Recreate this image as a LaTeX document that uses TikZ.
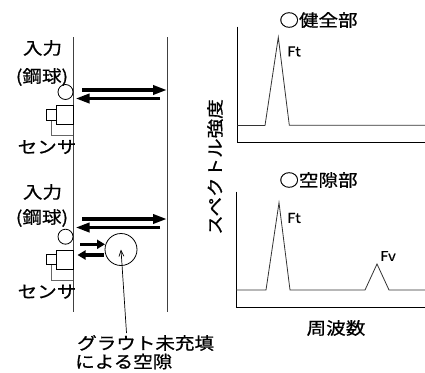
\documentclass[tikz,border=0pt]{standalone}
\usepackage{fontspec}
\newfontfamily\jp[FakeStretch=1.15,FakeBold=0.8]{Noto Sans CJK JP}
\newfontfamily\jl[FakeStretch=1.1,FakeBold=0.3]{Noto Sans CJK JP}
\usetikzlibrary{arrows.meta}
\tikzset{
  jtext/.style={font=\jp\fontsize{17}{19}\selectfont, inner sep=0pt},
  ltext/.style={font=\jl\fontsize{13.5}{15}\selectfont, inner sep=0pt},
  wall/.style={line width=0.9pt, draw=black!75},
  axis/.style={line width=0.9pt, draw=black},
  curve/.style={line width=0.8pt, draw=black!80},
  bigarrow/.style={line width=3.4pt, -{Triangle[length=14pt,width=9pt]}},
  smallarrow/.style={line width=3.4pt, -{Triangle[length=8pt,width=9pt]}},
  sensorbox/.style={draw=black, line width=0.9pt, inner sep=0pt},
  lead/.style={draw=black!60, line width=0.9pt},
  ball/.style={circle, draw=black, line width=0.8pt, minimum size=15pt, inner sep=0pt},
}
\begin{document}
\begin{tikzpicture}[x=1pt,y=-1pt]
\useasboundingbox (0,0) rectangle (425,372);
% walls
\coordinate (w1t) at (73,37); \coordinate (w1b) at (73,312);
\coordinate (w2t) at (167,37); \coordinate (w2b) at (167,312);
\draw[wall] (w1t) -- (w1b);
\draw[wall] (w2t) -- (w2b);

% ---- top group
\node[jtext] (in1) at (42.5,48) {入力};
\node[jtext] (st1) at (42,77) {(鋼球)};
\node[ball] (b1) at (65.5,92) {};
\coordinate (a1s) at (82,90); \coordinate (a1e) at (167,90);
\coordinate (a2s) at (160,98.5); \coordinate (a2e) at (75.5,98.5);
\draw[bigarrow] (a1s) -- (a1e);
\draw[bigarrow] (a2s) -- (a2e);
\coordinate (l1a) at (51.7,120); \coordinate (l1b) at (51.7,135.5); \coordinate (l1c) at (73,135.5);
\draw[lead] (l1a) -- (l1b) -- (l1c);
\node[sensorbox, minimum width=10pt, minimum height=11pt] (s1s) at (51.7,114.5) {};
\node[sensorbox, minimum width=16.7pt, minimum height=19pt] (s1b) at (64.8,114.5) {};
\node[jtext] (se1) at (47,147) {センサ};

% ---- bottom group
\node[jtext] (in2) at (42.5,192) {入力};
\node[jtext] (st2) at (42,218) {(鋼球)};
\node[ball] (b2) at (65.5,236.7) {};
\coordinate (a3s) at (82,219); \coordinate (a3e) at (167,219);
\coordinate (a4s) at (160,227.5); \coordinate (a4e) at (75.5,227.5);
\draw[bigarrow] (a3s) -- (a3e);
\draw[bigarrow] (a4s) -- (a4e);
\node[circle, draw=black, line width=0.8pt, minimum size=32pt, inner sep=0pt] (void) at (121,249.5) {};
\coordinate (a5s) at (80,244.3); \coordinate (a5e) at (105,244.3);
\coordinate (a6s) at (104,255); \coordinate (a6e) at (77.5,255);
\draw[smallarrow] (a5s) -- (a5e);
\draw[smallarrow] (a6s) -- (a6e);
\coordinate (l2a) at (51.7,264); \coordinate (l2b) at (51.7,280); \coordinate (l2c) at (73,280);
\draw[lead] (l2a) -- (l2b) -- (l2c);
\node[sensorbox, minimum width=10pt, minimum height=10pt] (s2s) at (51.7,259) {};
\node[sensorbox, minimum width=16.7pt, minimum height=19pt] (s2b) at (64.8,259.5) {};
\node[jtext] (se2) at (47,291.7) {センサ};

% void label
\node[jtext, anchor=west, align=left] (vl1) at (77,343) {グラウト未充填};
\node[jtext, anchor=west] (vl2) at (75,361.5) {による空隙};
\coordinate (ptr) at (126.5,333);
\draw[line width=0.7pt, -{Straight Barb[length=6pt,width=5pt]}] (ptr) -- (void.center);

% ---- top chart
\node[jtext] (t1) at (318.5,20) {○健全部};
\coordinate (o1) at (237.3,142.7); \coordinate (y1) at (237.3,26.7); \coordinate (x1) at (425,142.7);
\draw[axis] (y1) -- (o1) -- (x1);
\draw[curve] (237.3,125.5) -- (265,125.5) -- (278.3,37.3) -- (289.3,125.2) -- (425,125.2);
\node[ltext, anchor=west] (ft1) at (287,51.5) {Ft};

% ---- bottom chart
\node[jtext] (t2) at (318.5,180) {○空隙部};
\coordinate (o2) at (236,307.3); \coordinate (y2) at (236,191.7); \coordinate (x2) at (425,307.3);
\draw[axis] (y2) -- (o2) -- (x2);
\draw[curve] (236,290) -- (266,290) -- (279,202.7) -- (290,290) -- (365,290) -- (377,264) -- (389,290) -- (425,290);
\node[ltext, anchor=west] (ft2) at (287,218) {Ft};
\node[ltext, anchor=west] (fv) at (380,256) {Fv};

% axis labels
\node[jtext, rotate=90] (ylab) at (215,167) {スペクトル強度};
\node[jtext] (xlab) at (336,328) {周波数};
\end{tikzpicture}
\end{document}
